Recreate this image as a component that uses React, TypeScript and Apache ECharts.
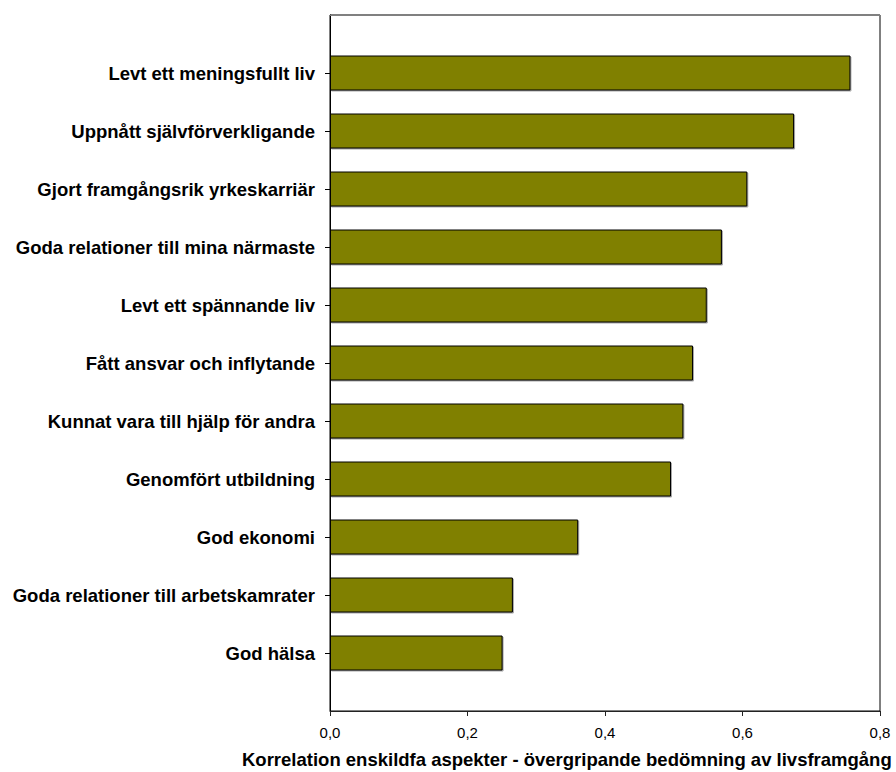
import React, { useEffect, useRef } from "react";
import * as echarts from "echarts";

const categories = [
  "Levt ett meningsfullt liv",
  "Uppnått självförverkligande",
  "Gjort framgångsrik yrkeskarriär",
  "Goda relationer till mina närmaste",
  "Levt ett spännande liv",
  "Fått ansvar och inflytande",
  "Kunnat vara till hjälp för andra",
  "Genomfört utbildning",
  "God ekonomi",
  "Goda relationer till arbetskamrater",
  "God hälsa",
];

const values = [0.757, 0.675, 0.607, 0.57, 0.548, 0.528, 0.514, 0.496, 0.361, 0.266, 0.251];

const xTicks = [0, 0.2, 0.4, 0.6, 0.8];

const axisTitle = "Korrelation enskildfa aspekter - övergripande bedömning av livsframgång";

export default function App() {
  const ref = useRef<HTMLDivElement>(null);

  useEffect(() => {
    if (!ref.current) return;
    const chart = echarts.init(ref.current, null, { renderer: "svg" });
    const cats = ["", ...categories, ""];
    const data = [null, ...values, null];
    const font = "Liberation Sans, Arial, sans-serif";
    chart.setOption({
      animation: false,
      backgroundColor: "#ffffff",
      grid: {
        left: 330,
        right: 16,
        top: 15,
        bottom: 61,
        show: true,
        borderColor: "#000000",
        borderWidth: 1,
        backgroundColor: "transparent",
      },
      xAxis: [
        {
          type: "value",
          position: "bottom",
          min: xTicks[0],
          max: xTicks[xTicks.length - 1],
          interval: 0.2,
          axisLine: { show: true, lineStyle: { color: "#222222", width: 1 } },
          axisTick: { show: true, inside: false, length: 5, lineStyle: { color: "#222222" } },
          axisLabel: {
            show: true,
            margin: 14,
            fontFamily: font,
            fontSize: 15,
            color: "#000000",
            formatter: (v: number) => v.toFixed(1).replace(".", ","),
          },
          splitLine: { show: false },
        },
        {
          type: "value",
          position: "top",
          min: 0,
          max: 0.8,
          interval: 0.2,
          axisLine: { show: true, lineStyle: { color: "#808080", width: 1 } },
          axisTick: { show: false },
          axisLabel: { show: false },
          splitLine: { show: false },
        },
      ],
      yAxis: {
        type: "category",
        data: cats,
        inverse: true,
        boundaryGap: false,
        axisLine: { show: true, lineStyle: { color: "#000000", width: 1 } },
        axisTick: {
          show: true,
          length: 5,
          lineStyle: { color: "#000000" },
          interval: (i: number) => i > 0 && i < cats.length - 1,
        },
        axisLabel: {
          show: true,
          margin: 15,
          interval: 0,
          fontFamily: font,
          fontSize: 18.5,
          fontWeight: "bold",
          color: "#000000",
        },
        splitLine: { show: false },
      },
      series: [
        {
          type: "bar",
          xAxisIndex: 0,
          data,
          barWidth: 35,
          itemStyle: {
            color: "#808000",
            borderColor: "#000000",
            borderWidth: 1,
            shadowColor: "rgba(0,0,0,0.35)",
            shadowOffsetX: 1,
            shadowOffsetY: 1,
            shadowBlur: 1,
          },
        },
      ],
      graphic: [
        {
          type: "text",
          left: 242,
          top: 750,
          style: {
            text: axisTitle,
            fontFamily: font,
            fontSize: 18.5,
            fontWeight: "bold",
            fill: "#000000",
          },
        },
      ],
    });
    return () => chart.dispose();
  }, []);

  return (
    <div
      ref={ref}
      style={{ position: "fixed", left: 0, top: 0, width: 896, height: 772 }}
    />
  );
}
